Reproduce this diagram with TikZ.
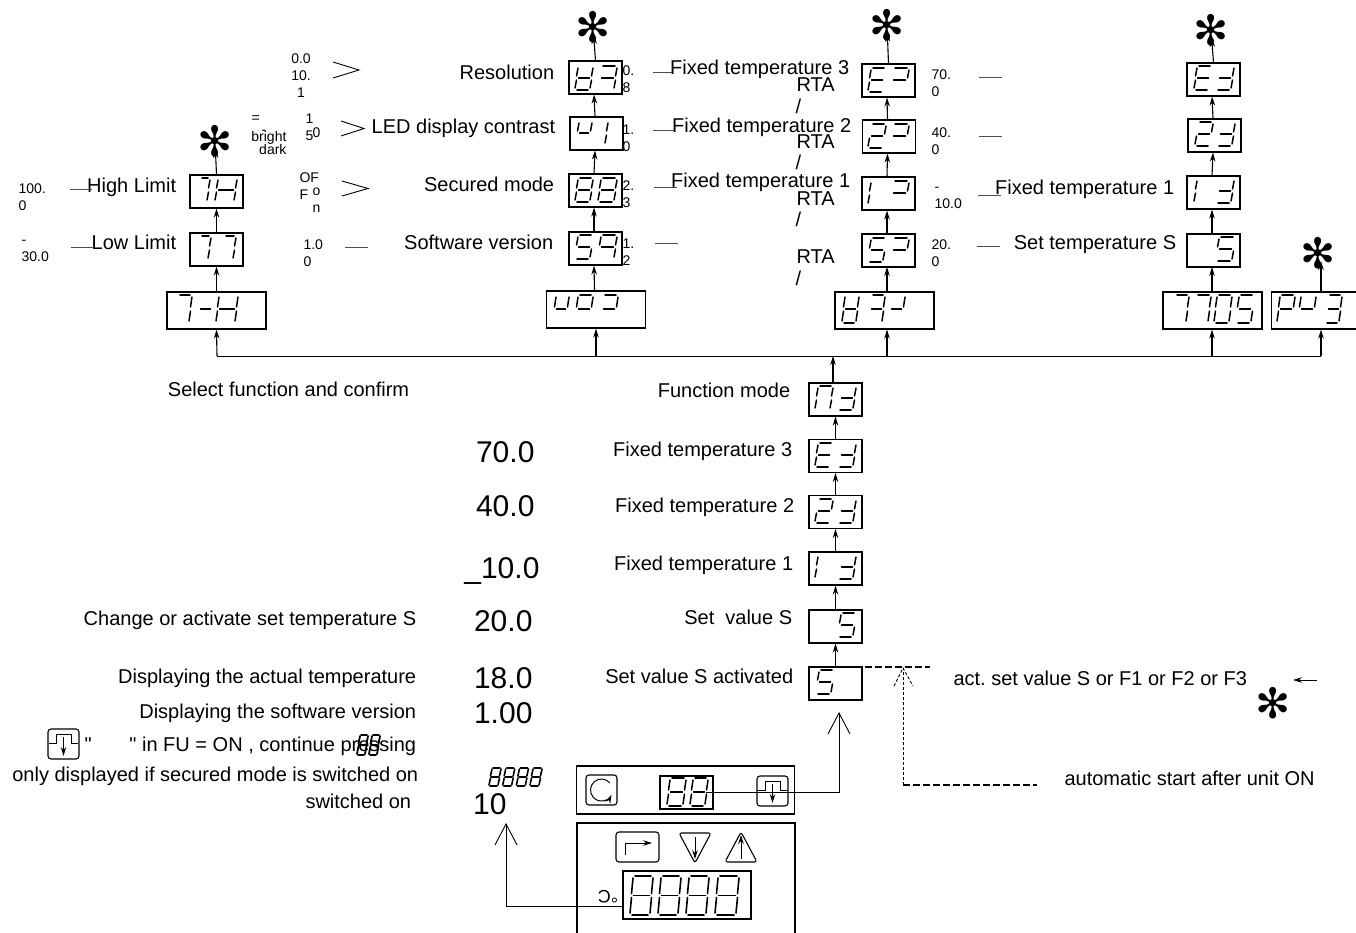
\documentclass[tikz,border=0pt]{standalone}
\usepackage{fontspec}
\setmainfont{Liberation Sans}
\newfontfamily\starfont{DejaVu Sans}
\newfontfamily\qfont{Liberation Sans}
\frenchspacing
\usetikzlibrary{arrows.meta}
\def\ds{3}\def\dg{2}\def\seglw{1.5}
\newcommand{\dq}{{\qfont"}}
\newcommand{\sgma}{\draw[seg] (\ds+\dg,0) -- (\ds+\dw-\dg,0);}
\newcommand{\sgmb}{\draw[seg] (\ds+\dw,\dg) -- (\ds*.5+\dw,\dh*.5-\dg);}
\newcommand{\sgmc}{\draw[seg] (\ds*.5+\dw,\dh*.5+\dg) -- (\dw,\dh-\dg);}
\newcommand{\sgmd}{\draw[seg] (\dg,\dh) -- (\dw-\dg,\dh);}
\newcommand{\sgme}{\draw[seg] (\ds*.5,\dh*.5+\dg) -- (0,\dh-\dg);}
\newcommand{\sgmf}{\draw[seg] (\ds,\dg) -- (\ds*.5,\dh*.5-\dg);}
\newcommand{\sgmg}{\draw[seg] (\ds*.5+\dg,\dh*.5) -- (\ds*.5+\dw-\dg,\dh*.5);}
\newcommand{\sd}[4][24]{\def\dh{#1}\def\dw{#3}\edef\dlist{#4}%
  \begin{scope}[shift={(#2)}]\foreach \q in \dlist{\csname sgm\q\endcsname}\end{scope}}
\begin{document}
\begin{tikzpicture}[>=Stealth, x=1pt, y=-1pt, line width=1.1pt,
    disp/.style={draw, minimum width=53pt, minimum height=33pt, inner sep=0pt},
    wide/.style={draw, minimum width=99pt, minimum height=37pt, inner sep=0pt},
    seg/.style={line width=\seglw pt, line cap=round},
    arr/.style={-{Stealth[length=9pt,width=5.5pt]}},
    open/.style={-{Straight Barb[length=21pt,width=22pt,line width=0.9pt]}, line width=1pt},
    lead/.style={line width=1pt, black!70},
    lbl/.style={font=\fontsize{20}{22}\selectfont, inner sep=0pt},
    big/.style={font=\fontsize{30}{32}\selectfont, inner sep=0pt},
    tiny/.style={font=\fontsize{14}{17}\selectfont, inner sep=0pt, align=left, execute at begin node={\rule{0pt}{10pt}}},
    spark/.style={font=\starfont\fontsize{42}{42}\selectfont, inner sep=0pt},
    pressicon/.pic={
      \draw[rounded corners=3pt] (0,0) rectangle (31,30);
      \draw[line width=1pt] (1,14) -- (8,14) -- (8,5) -- (23,5) -- (23,14) -- (30,14);
      \draw[arr,line width=1pt] (15.5,8) -- (15.5,27);
    }]
  \useasboundingbox (0,0) rectangle (1356,933);
  \foreach \nm/\x/\y in {hi/216.5/191.5, lo/216.5/249.5, res/595.5/77.5, led/596.5/133.5, sec/595.5/190.5, sw/595.5/248.5,
      fa/888.5/80.5, fb/889/136.5, fc/888.5/193.5, fs/888.5/250.5, ta/1213.5/79.5, tb/1214.5/135.5, tc/1213.5/192.5, ts/1213.5/250.5,
      md/835.5/399.5, la/835.5/456, lb/835.5/512, lc/835.5/568.5, ls/835.5/626.5, lact/835.5/683.5}
    {\node[disp] (\nm) at (\x,\y) {};}
  \foreach \nm/\x/\y in {grl/216.5/310.5, gvo/596/309.5, gra/884.5/310.5, gfx/1212.5/310.5}
    {\node[wide] (\nm) at (\x,\y) {};}
  \node[draw, minimum width=85pt, minimum height=37pt, inner sep=0pt] (gpu) at (1314,310.5) {};
  \coordinate (busl) at (217,356);
  \coordinate (busr) at (1321,356);
  \draw[line width=1pt] (busl) -- (busr);
  \draw[arr] (busl) -- (grl.south);
  \draw[arr] (gvo.south |- busl) -- (gvo.south);
  \draw[arr] (1212,356) -- (gfx.south -| 1212,0);
  \draw[arr] (887,356) -- (gra.south -| 887,0);
  \draw[arr] (busr) -- (gpu.south -| busr);
  \draw[arr] (md.north -| 833,0) -- (833,356);
  \foreach \a/\b in {grl/lo, lo/hi, lact/ls, ls/lc, lc/lb, lb/la, la/md}
    {\draw[arr] (\a.north) -- (\b.south);}
  \foreach \a/\b in {gvo/sw, sw/sec, sec/led, led/res, fs/fc, fc/fb, fb/fa, ts/tc, tc/tb, tb/ta}
    {\draw[arr] ([xshift=-1.5pt]\a.north) -- ([xshift=-1.5pt]\b.south);}
  \draw[arr] (gra.north -| 887,0) -- (887,267);
  \draw[arr] (gfx.north -| 1212,0) -- (1212,267);
  \foreach \nm/\x/\y in {sra/215/141, srb/593/27, src/887/25, srd/1211/30, sre/1318/253, srf/1273/703}
    {\node[spark] (\nm) at (\x,\y) {✻};}
  \foreach \a/\b in {hi/sra, res/srb, fa/src, ta/srd}
    {\draw[arr,shorten >=8pt] (\a.north) -- (\b.center);}
  \draw[arr,shorten >=8pt] (gpu.north -| 1321,0) -- (1321,253);
  \foreach \nm/\x/\y/\t in {thi/176/193/High Limit, tlo/176/250/Low Limit, tled/555/134/LED display contrast, tres/554/80/Resolution,
      tsec/554/192/Secured mode, tsw/553/250/Software version, tfa/849/75/Fixed temperature 3, tfb/851/133/Fixed temperature 2,
      tfc/850/188/Fixed temperature 1, ttc/1174/195/Fixed temperature 1, tts/1176/250/Set temperature S,
      tsel/409/396/Select function and confirm, tmd/790/397/Function mode, tla/792/456/Fixed temperature 3, tlb/794/512/Fixed temperature 2,
      tlc/793/570/Fixed temperature 1, tls/792/624/Set\ \ value S, tact/793/683/Set value S activated,
      tchg/416/625/Change or activate set temperature S, tdac/416/683/Displaying the actual temperature,
      tdsw/416/718/Displaying the software version, tfu/416/751/\dq{} in FU = ON {,} continue pressing,
      tsecm/418/781/only displayed if secured mode is switched on, tswo/411/808/switched on}
    {\node[lbl,anchor=base east] (\nm) at (\x+.7,\y) {\t};}
  \foreach \nm/\x/\y/\t in {rta/796/92/RTA, rtb/796/149/RTA, rtc/796/206/RTA, rtd/796/263/RTA,
      qta/84/751/\dq, tas/953/685/act. set value S or F1 or F2 or F3, tau/1064/785/automatic start after unit ON}
    {\node[lbl,anchor=base west] (\nm) at (\x,\y) {\t};}
  \foreach \nm/\y in {sla/114, slb/170, slc/227, sld/285}
    {\node[lbl,anchor=base west] (\nm) at (795,\y) {/};}
  \foreach \nm/\x/\y/\t in {va/535/462/70.0, vb/535/516/40.0, vc/540/578/\_10.0, vs/533/631/20.0, vt/533/688/18.0, vv/533/723/1.00, vx/507/814/10}
    {\node[big,anchor=base east] (\nm) at (\x,\y) {\t};}
  \foreach \nm/\x/\y/\t in {na/18/183/100.\\0, nb/21/240/-\\30.0, nc/303/239/1.0\\0, nd/305/113/1\\5, ne/299/172/OF\\F, nf/312/187/o\\n,
      ng/622/65/0.\\8, nh/622/124/1.\\0, ni/622/180/2.\\3, nj/622/238/1.\\2,
      nk/931/69/70.\\0, nl/931/127/40.\\0, nm/934/187/-\\10.0, nn/931/239/20.\\0, no/312/127/0, np/251/112/=}
    {\node[tiny,anchor=north west] (\nm) at (\x,\y) {\t};}
  \node[tiny,align=center,anchor=north] (nq) at (301,53) {0.0\\10.\\1};
  \node[tiny,anchor=base east,execute at begin node={}] (nr) at (287,142) {bright};
  \node[tiny,anchor=base east,execute at begin node={}] (ns) at (287,155) {dark};
  \node[tiny,anchor=base west,execute at begin node={}] (nt) at (261,135) {-};
  \foreach \a/\b/\y in {70/92/190, 71/94/248, 345/368/248, 653/672/73, 653/674/131, 654/677/188, 655/678/244, 979/1002/78, 979/1002/137, 978/1001/196, 977/1000/247}
    {\draw[lead] (\a,\y) -- (\b,\y);}
  \foreach \a/\b/\c/\d in {333/359/62/78, 341/364/121/136, 342/368/181/196}
    {\draw[line width=.9pt] (\a,\c) -- (\b,\c/2+\d/2) -- (\a,\d);}
  \sd{197,178}{10}{a,b,c} \sd{215,178}{19}{b,c,e,f,g}
  \sd{197,236}{11}{a,b,c} \sd{221,236}{12}{a,b,c}
  \sd[28]{175,295}{14}{a,b,c} \sd[28]{197,295}{14}{g} \sd[28]{216,295}{19}{b,c,e,f,g}
  \sd{575,66}{15}{b,c,d,e,f,g} \sd{598,66}{16}{a,b,c,g}
  \sd{576,121}{13}{b,f,g} \sd{592,121}{13}{b,c}
  \sd{575,178}{15}{a,b,c,d,e,f,g} \sd{598,178}{16}{a,b,c,d,e,f,g}
  \sd{575,235}{15}{a,c,d,f,g} \sd{598,235}{16}{a,b,c,f,g}
  \sd[28]{553,295}{13}{b,f,g} \sd[28]{575,295}{15}{a,b,f,g} \sd[28]{600,295}{15}{a,b,g}
  \sd{868,68}{15}{a,d,e,f,g} \sd{890,68}{16}{a,b,g}
  \sd{868,124}{15}{a,b,d,e,g} \sd{890,124}{16}{a,b,g}
  \sd{868,181}{15}{e,f} \sd{890,181}{16}{a,b,g}
  \sd{868,238}{15}{a,c,d,f,g} \sd{890,238}{16}{a,b,g}
  \sd[28]{842,295}{14}{b,c,d,e,f,g} \sd[28]{868,295}{14}{a,b,c,g} \sd[28]{888,295}{14}{b,g}
  \sd{1194,66}{15}{a,d,e,f,g} \sd{1216,66}{15}{b,c,d,g}
  \sd{1195,122}{15}{a,b,d,e,g} \sd{1217,122}{15}{b,c,d,g}
  \sd{1194,179}{15}{e,f} \sd{1216,179}{15}{b,c,d,g}
  \sd{1216,237}{16}{a,c,d,f,g}
  \sd[28]{1172,295}{14}{a,b,c} \sd[28]{1193,295}{15}{a,b,c} \sd[28]{1214,295}{15}{a,b,c,d,e,f} \sd[28]{1236,295}{15}{a,c,d,f,g}
  \sd[28]{1277,295}{15}{a,b,e,f,g} \sd[28]{1298,295}{15}{b,f,g} \sd[28]{1325,295}{14}{a,b,c,d,g}
  \sd{815,386}{15}{a,b,c,e,f} \sd{838,386}{15}{b,c,d,g}
  \sd{815,443}{15}{a,d,e,f,g} \sd{838,443}{15}{b,c,d,g}
  \sd{815,499}{15}{a,b,d,e,g} \sd{838,499}{15}{b,c,d,g}
  \sd{815,555}{15}{e,f} \sd{838,555}{15}{b,c,d,g}
  \sd{838,613}{15}{a,c,d,f,g}
  \sd{816,670}{15}{a,c,d,f,g}
  \node[draw, inner sep=0pt, minimum width=218pt, minimum height=48pt] (pana) at (685.5,790) {};
  \draw (577,933) -- (577,823) -- (795,823) -- (795,933);
  \node[draw, inner sep=0pt, minimum width=53pt, minimum height=33pt] (dsp) at (686.5,792.5) {};
  \node[draw, inner sep=0pt, minimum width=128pt, minimum height=48pt] (dspb) at (687,895) {};
  \node[draw, rounded corners=3pt, inner sep=0pt, minimum width=31pt, minimum height=30pt] (icrot) at (601.5,790) {};
  \draw[arr,line width=1pt] (icrot.center) ++(-40:11) arc (-40:-335:11);
  \pic at (757,776) {pressicon};
  \pic at (48,729) {pressicon};
  \coordinate (tips) at (839,712);
  \coordinate (tipv) at (506,823);
  \draw[open] ([xshift=-8pt]dsp.east) -| (tips);
  \draw[open] ([yshift=-11pt]dspb.west) -| (tipv);
  \begin{scope}[line width=1.1pt, line join=round]
    \node[draw, rounded corners=3pt, inner sep=0pt, minimum width=43pt, minimum height=30pt] (icfn) at (637.5,847) {};
    \draw[arr,line width=1pt] (625,855) -- (625,843) -- (652,843);
    \draw[rounded corners=2.5pt] (679,833) -- (711,833) -- (695,863) -- cycle;
    \draw[arr,line width=1pt] (695,837) -- (695,859);
    \draw[rounded corners=2.5pt] (725,862) -- (757,862) -- (741,832) -- cycle;
    \draw[arr,line width=1pt] (741,859) -- (741,835);
  \end{scope}
  \node[lbl,font=\fontsize{18}{20}\selectfont,rotate=180] (tdeg) at (608,897) {°C};
  \def\seglw{1.5}
  \sd[28]{667,778}{16}{a,b,c,d,e,f,g} \sd[28]{690,778}{15}{a,b,c,d,e,f,g}
  \def\seglw{1.6}
  \sd[39]{630,876}{20}{a,b,c,d,e,f,g} \sd[39]{658,876}{20}{a,b,c,d,e,f,g}
  \sd[39]{686,876}{20}{a,b,c,d,e,f,g} \sd[39]{715,876}{21}{a,b,c,d,e,f,g}
  \def\dg{1}
  \sd[18]{489,768}{9}{a,b,c,d,e,f,g} \sd[18]{502.7,768}{9}{a,b,c,d,e,f,g}
  \sd[18]{516.4,768}{9}{a,b,c,d,e,f,g} \sd[18]{530,768}{9}{a,b,c,d,e,f,g}
  \def\seglw{1.8}
  \sd[20]{357,735}{8}{a,b,c,d,e,f,g} \sd[20]{369,735}{8}{a,b,c,d,e,f,g}
  \coordinate (dsa) at (865,667);
  \coordinate (dsb) at (930,667);
  \coordinate (dsc) at (903,785);
  \coordinate (dsd) at (1037,785);
  \coordinate (dse) at (903,668);
  \draw[line width=1.5pt, dash pattern=on 7pt off 3pt] (dsa) -- (dsb);
  \draw[line width=1.5pt, dash pattern=on 7pt off 3pt] (dsc) -- (dsd);
  \draw[line width=.9pt, dash pattern=on 3pt off 2pt] (dsc) -- (dse);
  \draw[line width=.9pt, dash pattern=on 3pt off 2pt] (894,686) -- (dse) -- (913,686);
  \coordinate (ara) at (1317,680);
  \coordinate (arb) at (1293,680);
  \draw[arr,line width=1pt] (ara) -- (arb);
\end{tikzpicture}
\end{document}
